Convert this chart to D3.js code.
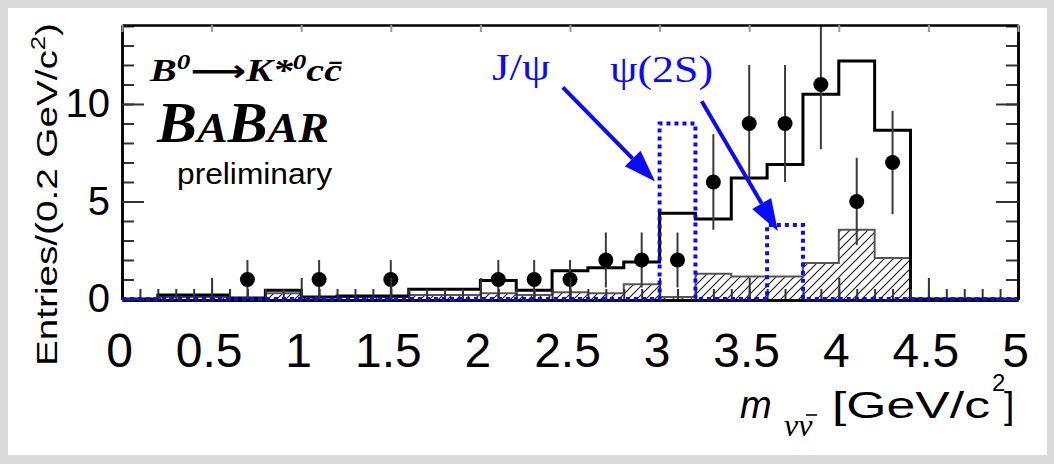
<!DOCTYPE html>
<html>
<head>
<meta charset="utf-8">
<script src="https://cdn.jsdelivr.net/npm/d3@7/dist/d3.min.js"></script>
<style>
  body { margin: 0; background: #dadada; }
  svg { display: block; }
</style>
</head>
<body>
<div id="chart"></div>
<script>
// bins are 0.2 GeV/c^2 wide, lower edges
const binLow = [0.0, 0.2, 0.4, 0.6, 0.8, 1.0, 1.2, 1.4, 1.6, 1.8, 2.0, 2.2, 2.4,
                2.6, 2.8, 3.0, 3.2, 3.4, 3.6, 3.8, 4.0, 4.2, 4.4, 4.6, 4.8]

// total expectation (solid black)
const totalMC = [0, 0.2, 0.2, 0.05, 0.45, 0.1, 0.15, 0.15, 0.5, 0.5, 0.95, 0.45, 1.45,
                 1.6, 1.9, 4.4, 4.1, 6.2, 6.9, 10.5, 12.2, 8.65, 0, 0, 0]
// background part (hatched)
const bkgMC = [0, 0.1, 0.1, 0.05, 0.3, 0.1, 0.1, 0.1, 0.2, 0.2, 0.3, 0.2, 0.35,
               0.3, 0.75, 0.1, 1.3, 1.15, 1.15, 1.85, 3.55, 2.1, 0, 0, 0]
// charmonium signal shape (blue dotted)
const signalMC = [0, 0, 0, 0, 0, 0, 0, 0, 0, 0, 0, 0, 0,
                  0, 0, 9.0, 0, 0, 3.8, 0, 0, 0, 0, 0, 0]

// data points
const dataX = [0.7, 1.1, 1.5, 2.1, 2.3, 2.5, 2.7, 2.9, 3.1, 3.3, 3.5, 3.7, 3.9, 4.1, 4.3]
const dataN = [1, 1, 1, 1, 1, 1, 2, 2, 2, 6, 9, 9, 11, 5, 7]
const dataErr = [1, 1, 1, 1, 1, 1, 1.41, 1.41, 1.41, 2.45, 3, 3, 3.32, 2.24, 2.65]

const xTicks = [0, 0.5, 1, 1.5, 2, 2.5, 3, 3.5, 4, 4.5, 5]
const xTickLabels = ["0", "0.5", "1", "1.5", "2", "2.5", "3", "3.5", "4", "4.5", "5"]
const yTicks = [0, 5, 10]

// arrows: from / to in data units
const arrows = [
    { name: "J/ψ", from: [2.46, 10.85], to: [2.975, 6.03] },
    { name: "ψ(2S)", from: [3.235, 10.14], to: [3.66, 3.48] }
]

const width = 1054, height = 464
const blue = "#0a0aff"

const svg = d3.select("#chart").append("svg")
    .attr("width", width)
    .attr("height", height)

// white panel on the grey background
svg.append("rect")
    .attr("x", 8).attr("y", 8)
    .attr("width", 1039).attr("height", 447)
    .attr("fill", "#fff")

const x = d3.scaleLinear().domain([0, 5]).range([122, 1018])
const y = d3.scaleLinear().domain([0, 14.05]).range([299, 25])

const defs = svg.append("defs")
defs.append("clipPath").attr("id", "frame")
    .append("rect")
    .attr("x", x(0)).attr("y", y(14.05))
    .attr("width", x(5) - x(0)).attr("height", y(0) - y(14.05))

const hatch = defs.append("pattern")
    .attr("id", "hatch")
    .attr("patternUnits", "userSpaceOnUse")
    .attr("width", 9).attr("height", 9)
hatch.append("path")
    .attr("d", "M-1,1 l2,-2 M0,9 l9,-9 M8,10 l2,-2")
    .attr("stroke", "#222")
    .attr("stroke-width", 1.2)

// step points for a histogram
const steps = vals => binLow.map((b, i) => [b, vals[i]]).concat([[5, 0]])
const stepLine = d3.line().curve(d3.curveStepAfter).x(d => x(d[0])).y(d => y(d[1]))

const plot = svg.append("g").attr("clip-path", "url(#frame)")

// hatched background
plot.append("path")
    .datum(steps(bkgMC))
    .attr("d", d3.area().curve(d3.curveStepAfter)
        .x(d => x(d[0])).y0(y(0)).y1(d => y(d[1])))
    .attr("fill", "url(#hatch)")
plot.append("path")
    .datum(steps(bkgMC))
    .attr("d", stepLine)
    .attr("fill", "none")
    .attr("stroke", "#555")
    .attr("stroke-width", 2)

// total, solid black
plot.append("path")
    .datum(steps(totalMC))
    .attr("d", stepLine)
    .attr("fill", "none")
    .attr("stroke", "#000")
    .attr("stroke-width", 3)

// axes
const axisStyle = g => {
    g.select(".domain").attr("stroke", "#000").attr("stroke-width", 2.5)
    g.selectAll(".tick line").attr("stroke", "#333").attr("stroke-width", 2)
}

svg.append("g")
    .attr("transform", `translate(0,${y(0) + 1})`)
    .call(d3.axisBottom(x).tickValues(x.ticks(50)).tickSizeInner(-11).tickSizeOuter(0).tickFormat(""))
    .call(axisStyle)
const xAxis = svg.append("g")
    .attr("transform", `translate(0,${y(0) + 1})`)
    .call(d3.axisBottom(x).tickValues(xTicks).tickSizeInner(-22).tickSizeOuter(0)
        .tickPadding(33).tickFormat((d, i) => xTickLabels[i]))
    .call(axisStyle)
xAxis.selectAll("text")
    .attr("font-family", "Liberation Sans, Arial, sans-serif")
    .attr("font-size", 48)
    .attr("fill", "#000")
    .attr("dx", -3)

svg.append("g")
    .attr("transform", `translate(${x(0)},0)`)
    .call(d3.axisLeft(y).tickValues(y.ticks(14)).tickSizeInner(-12).tickSizeOuter(0).tickFormat(""))
    .call(axisStyle)
const yAxis = svg.append("g")
    .attr("transform", `translate(${x(0)},0)`)
    .call(d3.axisLeft(y).tickValues(yTicks).tickSizeInner(-22).tickSizeOuter(0).tickPadding(12))
    .call(axisStyle)
yAxis.selectAll("text")
    .attr("font-family", "Liberation Sans, Arial, sans-serif")
    .attr("font-size", 40)
    .attr("fill", "#000")

svg.append("g")
    .attr("transform", `translate(${x(5)},0)`)
    .call(d3.axisRight(y).tickValues(y.ticks(14)).tickSizeInner(-12).tickSizeOuter(0).tickFormat(""))
    .call(axisStyle)
svg.append("g")
    .attr("transform", `translate(${x(5)},0)`)
    .call(d3.axisRight(y).tickValues(yTicks).tickSizeInner(-22).tickSizeOuter(0).tickFormat(""))
    .call(axisStyle)

const topAxis = svg.append("g")
    .attr("transform", `translate(0,${y(14.05)})`)
    .call(d3.axisTop(x).tickValues(xTicks).tickSizeInner(-7).tickSizeOuter(0).tickFormat(""))
    .call(axisStyle)
topAxis.selectAll(".tick line").attr("stroke", "#999")

// blue dotted signal shape, drawn on top of the axis
svg.append("path")
    .datum(steps(signalMC))
    .attr("d", stepLine)
    .attr("fill", "none")
    .attr("stroke", blue)
    .attr("stroke-width", 4)
    .attr("stroke-dasharray", "4,4")

// data points with errors
const pts = plot.selectAll("g.pt")
    .data(dataX.map((d, i) => ({ x: d, n: dataN[i], e: dataErr[i] })))
    .join("g")
    .attr("class", "pt")
pts.append("line")
    .attr("x1", d => x(d.x)).attr("x2", d => x(d.x))
    .attr("y1", d => y(Math.max(0, d.n - d.e)))
    .attr("y2", d => y(d.n + d.e))
    .attr("stroke", "#3a3a3a")
    .attr("stroke-width", 2)
pts.append("circle")
    .attr("cx", d => x(d.x))
    .attr("cy", d => y(d.n))
    .attr("r", 7.5)
    .attr("fill", "#000")

// arrows
arrows.forEach(a => {
    const x1 = x(a.from[0]), y1 = y(a.from[1])
    const x2 = x(a.to[0]), y2 = y(a.to[1])
    const ang = Math.atan2(y2 - y1, x2 - x1)
    const hl = 32, hw = 11
    const bx = x2 - hl * Math.cos(ang), by = y2 - hl * Math.sin(ang)
    svg.append("line")
        .attr("x1", x1).attr("y1", y1)
        .attr("x2", bx).attr("y2", by)
        .attr("stroke", blue)
        .attr("stroke-width", 4)
    svg.append("path")
        .attr("d", `M${x2},${y2} L${bx + hw * Math.sin(ang)},${by - hw * Math.cos(ang)} L${bx - hw * Math.sin(ang)},${by + hw * Math.cos(ang)} Z`)
        .attr("fill", blue)
})

const serif = "Liberation Serif, Times New Roman, serif"
const sans = "Liberation Sans, Arial, sans-serif"

svg.append("text")
    .attr("x", 492).attr("y", 80)
    .attr("font-family", serif).attr("font-size", 37)
    .attr("fill", blue)
    .attr("textLength", 58).attr("lengthAdjust", "spacingAndGlyphs")
    .text("J/ψ")
svg.append("text")
    .attr("x", 610).attr("y", 82)
    .attr("font-family", serif).attr("font-size", 37)
    .attr("fill", blue)
    .attr("textLength", 103).attr("lengthAdjust", "spacingAndGlyphs")
    .text("ψ(2S)")

// decay label
const decay = svg.append("text")
    .attr("x", 150).attr("y", 81)
    .attr("font-family", serif).attr("font-size", 31)
    .attr("font-weight", "bold").attr("font-style", "italic")
    .attr("textLength", 192).attr("lengthAdjust", "spacingAndGlyphs")
decay.append("tspan").text("B")
decay.append("tspan").attr("font-size", 21).attr("dy", -12).text("0")
decay.append("tspan").attr("dy", 12).attr("font-family", "DejaVu Sans")
    .attr("font-style", "normal").attr("font-size", 30).text("⟶")
decay.append("tspan").text("K*")
decay.append("tspan").attr("font-size", 21).attr("dy", -12).text("0")
decay.append("tspan").attr("dy", 12).text("cc\u0304")

const babar = svg.append("text")
    .attr("x", 157).attr("y", 142)
    .attr("font-family", serif).attr("font-size", 56)
    .attr("font-weight", "bold").attr("font-style", "italic")
    .attr("textLength", 172).attr("lengthAdjust", "spacingAndGlyphs")
babar.append("tspan").text("B")
babar.append("tspan").attr("font-size", 43).text("A")
babar.append("tspan").text("B")
babar.append("tspan").attr("font-size", 43).text("AR")

svg.append("text")
    .attr("x", 177).attr("y", 184)
    .attr("font-family", sans).attr("font-size", 29)
    .attr("textLength", 155).attr("lengthAdjust", "spacingAndGlyphs")
    .text("preliminary")

// y title
const yTitle = svg.append("text")
    .attr("transform", "translate(57,194.5) rotate(-90)")
    .attr("text-anchor", "middle")
    .attr("font-family", sans).attr("font-size", 30)
    .attr("textLength", 343).attr("lengthAdjust", "spacingAndGlyphs")
yTitle.append("tspan").text("Entries/(0.2 GeV/c")
yTitle.append("tspan").attr("font-size", 20).attr("dy", -12).text("2")
yTitle.append("tspan").attr("dy", 12).text(")")

// x title
svg.append("text")
    .attr("x", 740).attr("y", 418)
    .attr("font-family", sans).attr("font-size", 38).attr("font-style", "italic")
    .text("m")
svg.append("text")
    .attr("x", 784).attr("y", 436)
    .attr("font-family", serif).attr("font-style", "italic").attr("font-size", 32)
    .text("νν")
// bar over the anti-neutrino
svg.append("line")
    .attr("x1", 806).attr("x2", 817)
    .attr("y1", 415).attr("y2", 415)
    .attr("stroke", "#000").attr("stroke-width", 1.6)
svg.append("text")
    .attr("x", 832).attr("y", 418)
    .attr("font-family", sans).attr("font-size", 37)
    .attr("textLength", 158).attr("lengthAdjust", "spacingAndGlyphs")
    .text("[GeV/c")
svg.append("text")
    .attr("x", 992).attr("y", 391)
    .attr("font-family", sans).attr("font-size", 24)
    .text("2")
svg.append("text")
    .attr("x", 1004).attr("y", 418)
    .attr("font-family", sans).attr("font-size", 37)
    .text("]")
</script>
</body>
</html>
